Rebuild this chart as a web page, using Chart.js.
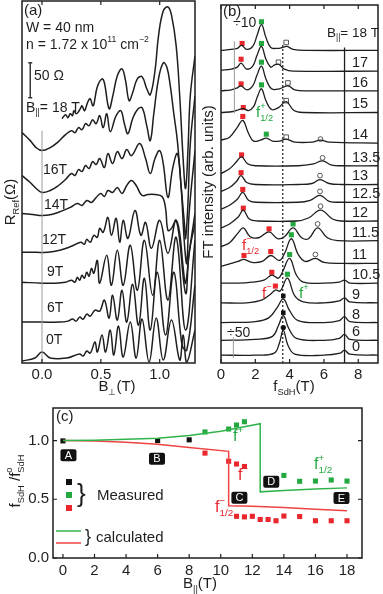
<!DOCTYPE html>
<html>
<head>
<meta charset="utf-8">
<script src="https://cdn.jsdelivr.net/npm/chart.js@4"></script>
<style>
  body { margin: 0; background: #fff; width: 383px; height: 594px; position: relative; overflow: hidden; }
  canvas { position: absolute; }
</style>
</head>
<body>
<canvas id="cA" style="left:0px;top:0px" width="200" height="400"></canvas>
<canvas id="cB" style="left:200px;top:0px" width="183" height="400"></canvas>
<canvas id="cC" style="left:0px;top:395px" width="383" height="199"></canvas>
<script>
// ---------- (a) magnetoresistance traces, offset for clarity: [B_perp (T), R (offset units)]
const rA18 = [[0.17,245],[0.20,249],[0.22,246],[0.24,250],[0.26,248],[0.27,253],[0.29,250],[0.31,252],[0.33,256],[0.34,258],[0.36,253],[0.37,255],[0.39,262],[0.41,265],[0.43,258],[0.44,259],[0.47,277],[0.51,285],[0.53,281],[0.57,255],[0.60,267],[0.64,288],[0.68,295],[0.71,283],[0.74,263],[0.77,271],[0.81,285],[0.85,287],[0.89,275],[0.92,269],[0.96,293],[0.99,328],[1.03,353],[1.07,357],[1.10,349],[1.14,318],[1.17,268],[1.20,203],[1.22,175],[1.24,213],[1.26,268],[1.30,308]];
const rA17 = [[-0.17,231],[-0.10,223],[-0.05,216],[0,213],[0.07,216],[0.14,222],[0.20,229],[0.25,233],[0.28,231],[0.31,236],[0.34,234],[0.37,240],[0.40,238],[0.43,244],[0.46,240],[0.49,248],[0.52,236],[0.55,250],[0.58,232],[0.63,248],[0.67,253],[0.70,240],[0.73,230],[0.77,245],[0.81,254],[0.85,256],[0.89,238],[0.92,223],[0.95,250],[0.99,285],[1.03,301],[1.06,297],[1.09,278],[1.12,250],[1.15,223],[1.18,180],[1.21,140],[1.22,125],[1.24,160],[1.26,220],[1.30,268]];
const rA16 = [[-0.17,188],[-0.10,181],[-0.05,175],[0,171],[0.07,173],[0.14,178],[0.20,184],[0.25,190],[0.28,188],[0.31,194],[0.34,192],[0.37,198],[0.40,195],[0.43,202],[0.46,199],[0.49,205],[0.53,196],[0.56,210],[0.60,200],[0.64,212],[0.68,205],[0.72,214],[0.76,208],[0.83,220],[0.88,205],[0.92,190],[0.96,205],[1.00,213],[1.03,200],[1.07,166],[1.11,195],[1.15,210],[1.18,180],[1.21,120],[1.23,100],[1.25,150],[1.30,213]];
const rA14 = [[-0.17,150],[-0.08,149],[0,148],[0.08,149],[0.16,152],[0.24,156],[0.30,160],[0.34,158],[0.38,163],[0.42,161],[0.46,166],[0.50,170],[0.53,167],[0.56,173],[0.60,171],[0.64,176],[0.68,170],[0.72,178],[0.76,183],[0.80,178],[0.85,168],[0.90,169],[0.96,169],[1.02,167],[1.05,155],[1.07,133],[1.10,135],[1.14,143],[1.17,130],[1.20,95],[1.22,80],[1.25,110],[1.30,150]];
const rA12 = [[-0.17,111],[-0.05,111],[0.05,111],[0.15,113],[0.25,117],[0.33,121],[0.36,119],[0.38,124],[0.41,121],[0.44,128],[0.47,126],[0.49,135],[0.52,131],[0.56,146],[0.59,128],[0.63,145],[0.66,121],[0.69,143],[0.73,125],[0.79,153],[0.84,128],[0.88,141],[0.93,115],[1.00,143],[1.07,110],[1.14,143],[1.22,70],[1.25,110],[1.30,140]];
const rA9 = [[-0.17,81],[0,80],[0.10,80],[0.20,81],[0.25,83],[0.28,81],[0.30,86],[0.32,83],[0.34,88],[0.36,85],[0.38,91],[0.40,87],[0.42,95],[0.44,90],[0.47,103],[0.49,80],[0.55,108],[0.59,78],[0.64,113],[0.69,78],[0.75,118],[0.81,73],[0.87,123],[0.94,68],[1.00,123],[1.07,63],[1.14,126],[1.22,33],[1.30,123]];
const rA6 = [[-0.17,41],[0,41],[0.15,41],[0.22,42],[0.26,44],[0.29,42],[0.32,46],[0.35,44],[0.38,49],[0.41,47],[0.45,53],[0.49,52],[0.53,63],[0.57,45],[0.60,68],[0.64,43],[0.68,73],[0.72,41],[0.77,79],[0.82,38],[0.87,85],[0.92,33],[0.98,91],[1.05,28],[1.12,91],[1.19,18],[1.23,13],[1.30,78]];
const rA0 = [[-0.17,2],[-0.06,5],[0,11],[0.07,5],[0.21,5],[0.32,9],[0.35,7],[0.38,12],[0.41,10],[0.45,21],[0.47,11],[0.51,28],[0.54,11],[0.58,33],[0.61,8],[0.65,37],[0.69,6],[0.75,41],[0.80,5],[0.85,44],[0.91,1],[0.97,45],[1.03,3],[1.10,43],[1.17,3],[1.20,28],[1.23,1],[1.30,33]];

// ---------- (b) FT spectra: field labels, baseline offsets, [f_SdH (T), intensity above baseline]
const ftFields  = ['18','17','16','15','14','13.5','13','12.5','12','11.5','11','10.5','9','8','6','0'];
const ftOffsets = [317,296,276,254,223,200,181,163,144,124,101,81,61,41,23,8];
const ftCurves = [
  [[0,0],[0.6,1],[0.95,2],[1.2,5],[1.5,1],[1.85,4],[2.1,15],[2.36,26],[2.62,13],[2.9,3],[3.3,2],[3.6,3],[3.85,4],[4.2,1],[5,0],[9.2,0]],
  [[0,1],[0.6,2],[0.95,4],[1.17,8],[1.5,2],[1.85,5],[2.1,16],[2.36,25],[2.62,12],[2.9,4],[3.1,6],[3.35,7],[3.7,2],[4.2,0],[9.2,0]],
  [[0,0],[0.6,1],[0.95,3],[1.17,5],[1.5,1],[1.85,5],[2.1,16],[2.36,25],[2.62,12],[2.95,2],[3.4,2],[3.9,5],[4.3,1],[5,0],[9.2,0]],
  [[0,0],[0.7,1],[1.05,3],[1.3,4],[1.6,2],[1.9,6],[2.12,16],[2.36,24],[2.62,12],[2.95,3],[3.35,5],[3.8,11],[4.25,2],[4.8,0],[9.2,0]],
  [[0,3],[0.5,6],[0.95,16],[1.27,23],[1.6,10],[1.9,2],[2.3,3],[2.64,5],[3.0,2],[3.4,2],[3.8,4],[4.3,1],[5.3,1],[5.8,3],[6.3,1],[9.2,0]],
  [[0,-8],[0.5,-3],[0.9,4],[1.2,9],[1.55,2],[2.0,0],[4.5,0],[5.4,2],[5.92,5],[6.4,1],[7,0],[9.2,0]],
  [[0,-7],[0.5,-3],[0.9,3],[1.17,9],[1.5,2],[2.0,0],[4.5,0],[5.3,1],[5.77,5],[6.3,1],[7,0],[9.2,0]],
  [[0,-7],[0.5,-3],[0.95,3],[1.27,10],[1.6,2],[2.0,0],[4.5,0],[5.2,2],[5.77,7],[6.3,1],[7,0],[9.2,0]],
  [[0,-7],[0.5,-3],[1.0,4],[1.3,11],[1.65,2],[2.1,0],[4.4,0],[5.1,3],[5.8,11],[6.5,2],[7,0],[9.2,0]],
  [[0,-6],[0.5,-2],[1.0,8],[1.3,13],[1.7,4],[2.2,3],[2.8,9],[3.3,2],[3.7,4],[4.2,13],[4.7,3],[5.1,2],[5.63,13],[6.2,3],[6.8,0],[9.2,0]],
  [[0,-3],[0.6,0],[1.0,2],[1.34,4],[1.8,1],[2.4,2],[2.9,8],[3.4,3],[3.7,10],[4.1,25],[4.5,9],[4.9,2],[5.5,5],[6.0,1],[7,0],[9.2,0]],
  [[0,0],[1.0,0],[1.8,1],[2.5,3],[2.96,8],[3.35,5],[3.6,12],[4.0,25],[4.4,8],[4.8,1],[6,0],[6.9,1],[7.2,3],[7.5,0],[9.2,0]],
  [[0,0],[1.5,0],[2.4,3],[2.9,9],[3.17,13],[3.45,12],[3.87,25],[4.3,7],[4.8,1],[6,0],[6.9,2],[7.2,5],[7.5,1],[9.2,0]],
  [[0,0],[2,1],[2.8,5],[3.3,16],[3.63,24],[4.0,12],[4.5,2],[6,0],[6.9,2],[7.2,6],[7.5,1],[9.2,0]],
  [[0,0],[2,1],[3.0,4],[3.35,15],[3.63,25],[3.95,12],[4.4,2],[6,0],[6.9,2],[7.2,6],[7.5,1],[9.2,0]],
  [[0,0],[2,0],[3.1,2],[3.4,12],[3.63,25],[3.9,10],[4.3,1],[6,0],[6.95,2],[7.2,5],[7.5,1],[9.2,0]]
];
// peak markers in (b): [f_SdH, level]
const ftRed   = [[1.23,324],[1.17,308],[1.17,283],[1.3,259],[1.27,250],[1.2,211],[1.17,193],[1.27,176],[1.3,157],[2.8,136],[1.34,109],[2.9,113],[2.96,92],[3.17,78]];
const ftGreen = [[2.36,346],[2.36,324],[2.36,305],[2.36,282],[2.64,232],[4.2,141],[4.1,130],[4.0,110],[3.87,90]];
const ftOpenSq = [[3.8,325],[3.35,305],[3.9,284],[3.8,266],[3.8,229]];
const ftOpenCirc = [[5.8,227],[5.92,208],[5.77,190],[5.77,174],[5.8,159],[5.63,141],[5.5,110]];
const ftBlackSq = [[3.63,68],[3.63,51]];
const ftBlackCirc = [[3.63,36]];

// ---------- (c) normalised frequencies vs in-plane field
const measBlackB = [0, 6, 8];
const measBlackF = [0.997, 1.0, 1.006];
const measGreenB = [9, 10.5, 11, 11.5, 14, 15, 16, 17, 18];
const measGreenF = [1.073, 1.098, 1.132, 1.16, 0.703, 0.653, 0.655, 0.664, 0.655];
const measRedB = [9, 10.5, 11, 11.5, 11, 11.5, 12, 12.5, 13, 13.5, 14, 15, 16, 17, 18];
const measRedF = [0.893, 0.824, 0.80, 0.779, 0.355, 0.35, 0.355, 0.328, 0.328, 0.317, 0.357, 0.353, 0.317, 0.317, 0.317];
const calcGreenB = [0, 2, 4, 6, 8, 10, 12.5, 12.5, 14, 16, 18];
const calcGreenF = [1.0, 1.003, 1.01, 1.019, 1.042, 1.08, 1.143, 0.563, 0.575, 0.588, 0.597];
const calcRedB = [0, 2, 4, 6, 8, 10.5, 10.5, 12, 14, 16, 18];
const calcRedF = [1.0, 0.995, 0.985, 0.969, 0.941, 0.908, 0.445, 0.44, 0.43, 0.415, 0.403];
const regionNames = ['A', 'B', 'C', 'D', 'E'];
const regionB = [0.35, 5.96, 11.18, 13.2, 17.65];
const regionF = [0.874, 0.845, 0.513, 0.65, 0.51];

const FONT = '"Liberation Sans", Arial, Helvetica, sans-serif';
const INK = '#1e1e1e';
const RED = '#e8262b';
const GREEN = '#22a83f';

// draws text made of normal / sub / sup runs; a third element true = do not advance
function rich(ctx, x, y, parts, size, color, align, rot) {
  ctx.save();
  ctx.translate(x, y);
  if (rot) ctx.rotate(rot);
  ctx.fillStyle = color || INK;
  ctx.textBaseline = 'middle';
  ctx.textAlign = 'left';
  let w = 0;
  const segs = parts.map(p => {
    const t = typeof p === 'string' ? p : p[0];
    const k = typeof p === 'string' ? 'n' : p[1];
    const s = k === 'n' ? size : size * 0.62;
    ctx.font = s + 'px ' + FONT;
    const m = ctx.measureText(t).width;
    const seg = { t, k, s, x: w };
    if (!(typeof p !== 'string' && p[2])) w += m;
    return seg;
  });
  const x0 = align === 'center' ? -w / 2 : align === 'right' ? -w : 0;
  segs.forEach(g => {
    ctx.font = g.s + 'px ' + FONT;
    const dy = g.k === 'sub' ? size * 0.33 : g.k === 'sup' ? -size * 0.42 : 0;
    ctx.fillText(g.t, x0 + g.x, dy);
  });
  ctx.restore();
}

function frame(chart, xt, yt, top) {
  const { ctx, chartArea: a, scales } = chart;
  ctx.save();
  ctx.strokeStyle = INK;
  ctx.lineWidth = 1.5;
  ctx.strokeRect(a.left, a.top, a.right - a.left, a.bottom - a.top);
  ctx.lineWidth = 1.2;
  ctx.beginPath();
  xt.forEach(v => {
    const x = scales.x.getPixelForValue(v);
    ctx.moveTo(x, a.bottom); ctx.lineTo(x, a.bottom - 4);
    if (top) { ctx.moveTo(x, a.top); ctx.lineTo(x, a.top + 4); }
  });
  yt.forEach(v => {
    const y = scales.y.getPixelForValue(v);
    ctx.moveTo(a.left, y); ctx.lineTo(a.left + 4, y);
    ctx.moveTo(a.right, y); ctx.lineTo(a.right - 4, y);
  });
  ctx.stroke();
  ctx.restore();
}

function pts(arr) { return arr.map(p => ({ x: p[0], y: p[1] })); }
function zipXY(xs, ys) { return xs.map((x, i) => ({ x, y: ys[i] })); }
function curve(data, color, width, extra) {
  return Object.assign({ type: 'line', data, borderColor: color, borderWidth: width, pointRadius: 0, tension: 0.4, fill: false }, extra || {});
}
function marks(data, style, radius, fillColor, strokeColor, bw) {
  return { type: 'scatter', data, pointStyle: style, pointRadius: radius, backgroundColor: fillColor, borderColor: strokeColor, pointBorderWidth: bw || 0, borderWidth: bw || 0 };
}
const baseOpts = { responsive: false, animation: false, events: [], plugins: { legend: { display: false }, tooltip: { enabled: false } } };

// ================= panel (a)
const traceSets = [rA18, rA17, rA16, rA14, rA12, rA9, rA6, rA0];
new Chart(document.getElementById('cA'), {
  type: 'line',
  data: {
    datasets: [
      curve(pts([[0, 0], [0, 233]]), '#9a9a9a', 1, { tension: 0 }),
      curve(pts([[-0.1, 266], [-0.1, 301]]), INK, 1.3, { tension: 0 }),
      curve(pts([[-0.117, 266], [-0.083, 266]]), INK, 1.3, { tension: 0 }),
      curve(pts([[-0.117, 301], [-0.083, 301]]), INK, 1.3, { tension: 0 }),
      ...traceSets.map(t => curve(pts(t), INK, 1.5))
    ]
  },
  options: Object.assign({}, baseOpts, {
    layout: { padding: { left: 22, right: 5, top: 1, bottom: 0 } },
    scales: {
      x: {
        type: 'linear', min: -0.17, max: 1.3,
        grid: { display: false, drawTicks: false }, border: { display: false },
        ticks: { font: { size: 15, family: FONT }, color: INK, padding: 3, autoSkip: false, maxRotation: 0, callback: v => v.toFixed(1) },
        afterBuildTicks: s => { s.ticks = [0, 0.5, 1.0].map(v => ({ value: v })); },
        afterFit: s => { s.height = 37; }
      },
      y: { display: false, min: 0, max: 363 }
    }
  }),
  plugins: [{
    id: 'deckA',
    afterDraw(chart) {
      const ctx = chart.ctx;
      frame(chart, [0, 0.5, 1.0], [], true);
      rich(ctx, 24, 11, ['(a)'], 15);
      rich(ctx, 26, 28, ['W = 40 nm'], 14);
      rich(ctx, 26, 45, ['n = 1.72 x 10', ['11', 'sup'], ' cm', ['\u22122', 'sup']], 14);
      rich(ctx, 34, 76, ['50 \u03A9'], 14);
      rich(ctx, 26, 108, ['B', ['||', 'sub'], '= 18 T'], 14);
      [['16T', 43, 170], ['14T', 44, 205], ['12T', 42, 240], ['9T', 47, 272], ['6T', 47, 308], ['0T', 46, 340]]
        .forEach(l => rich(ctx, l[1], l[2], [l[0]], 14));
      rich(ctx, 117, 387, ['B', ['\u22A5', 'sub'], '(T)'], 15, INK, 'center');
      rich(ctx, 11, 202, ['R', ['Ref', 'sub'], '(\u03A9)'], 15, INK, 'center', -Math.PI / 2);
    }
  }]
});

// ================= panel (b)
const ftSets = ftCurves.map((c, i) => curve(c.map(p => ({ x: p[0], y: p[1] + ftOffsets[i] })), INK, 1.3));
new Chart(document.getElementById('cB'), {
  type: 'line',
  data: {
    datasets: [
      curve(pts([[0.78, 253], [0.78, 326]]), '#9a9a9a', 1, { tension: 0 }),
      curve(pts([[0.72, 5], [0.72, 26]]), '#9a9a9a', 1, { tension: 0 }),
      curve(pts([[3.6, 0], [3.6, 323]]), INK, 1.2, { tension: 0, borderDash: [2, 2] }),
      curve(pts([[7.2, 0], [7.2, 320]]), INK, 1.3, { tension: 0 }),
      ...ftSets,
      marks(pts(ftRed), 'rect', 3.6, RED, RED),
      marks(pts(ftGreen), 'rect', 3.6, GREEN, GREEN),
      marks(pts(ftOpenSq), 'rect', 3.2, '#fff', '#555', 1),
      marks(pts(ftOpenCirc), 'circle', 2.4, '#fff', '#555', 1),
      marks(pts(ftBlackSq), 'rect', 3.2, '#111', '#111'),
      marks(pts(ftBlackCirc), 'circle', 2.6, '#111', '#111')
    ]
  },
  options: Object.assign({}, baseOpts, {
    layout: { padding: { left: 21, right: 1, top: 1, bottom: 0 } },
    scales: {
      x: {
        type: 'linear', min: 0, max: 9.15,
        grid: { display: false, drawTicks: false }, border: { display: false },
        ticks: { font: { size: 15, family: FONT }, color: INK, padding: 3, autoSkip: false, maxRotation: 0 },
        afterBuildTicks: s => { s.ticks = [0, 2, 4, 6, 8].map(v => ({ value: v })); },
        afterFit: s => { s.height = 37; }
      },
      y: { display: false, min: 0, max: 363 }
    }
  }),
  plugins: [{
    id: 'deckB',
    afterDraw(chart) {
      const ctx = chart.ctx, y = chart.scales.y;
      frame(chart, [0, 2, 4, 6, 8], [], true);
      rich(ctx, 23, 12, ['(b)'], 15);
      rich(ctx, 33, 23, ['\u00F710'], 14);
      rich(ctx, 27, 333, ['\u00F750'], 14);
      rich(ctx, 127, 33, ['B', ['||', 'sub'], '= 18 T'], 13.5);
      ftFields.forEach((f, i) => { if (i > 0) rich(ctx, 152, y.getPixelForValue(ftOffsets[i]) - 8, [f], 14.5); });
      rich(ctx, 56, 113, ['f', ['+', 'sup', true], ['1/2', 'sub']], 15, GREEN);
      rich(ctx, 42, 246, ['f', ['\u2212', 'sup', true], ['1/2', 'sub']], 15, RED);
      rich(ctx, 62, 294, ['f', ['\u2212', 'sup']], 15, RED);
      rich(ctx, 99, 294, ['f', ['+', 'sup']], 15, GREEN);
      rich(ctx, 94, 387, ['f', ['SdH', 'sub'], '(T)'], 15, INK, 'center');
      rich(ctx, 9, 182, ['FT intensity (arb. units)'], 15, INK, 'center', -Math.PI / 2);
    }
  }]
});

// ================= panel (c)
new Chart(document.getElementById('cC'), {
  type: 'line',
  data: {
    datasets: [
      curve(zipXY(calcGreenB, calcGreenF), '#2fb44c', 1.5, { tension: 0 }),
      curve(zipXY(calcRedB, calcRedF), '#ee4444', 1.5, { tension: 0 }),
      marks(zipXY(measBlackB, measBlackF), 'rect', 3.6, '#111', '#111'),
      marks(zipXY(measGreenB, measGreenF), 'rect', 3.6, GREEN, GREEN),
      marks(zipXY(measRedB, measRedF), 'rect', 3.6, RED, RED)
    ]
  },
  options: Object.assign({}, baseOpts, {
    layout: { padding: { left: 0, right: 21, top: 11, bottom: 0 } },
    scales: {
      x: {
        type: 'linear', min: -0.63, max: 18.95,
        grid: { display: false, drawTicks: false }, border: { display: false },
        ticks: { font: { size: 15, family: FONT }, color: INK, padding: 4, autoSkip: false, maxRotation: 0 },
        afterBuildTicks: s => { s.ticks = [0, 2, 4, 6, 8, 10, 12, 14, 16, 18].map(v => ({ value: v })); },
        afterFit: s => { s.height = 36; }
      },
      y: {
        type: 'linear', min: 0, max: 1.277,
        grid: { display: false, drawTicks: false }, border: { display: false },
        ticks: { font: { size: 15, family: FONT }, color: INK, padding: 4, callback: v => v.toFixed(1) },
        afterBuildTicks: s => { s.ticks = [0, 0.5, 1.0].map(v => ({ value: v })); },
        afterFit: s => { s.width = 53; }
      }
    }
  }),
  plugins: [{
    id: 'deckC',
    afterDraw(chart) {
      const ctx = chart.ctx, sx = chart.scales.x, sy = chart.scales.y;
      frame(chart, [0, 2, 4, 6, 8, 10, 12, 14, 16, 18], [0, 0.5, 1.0], false);
      // region tags
      regionNames.forEach((n, i) => {
        const x = sx.getPixelForValue(regionB[i]), y = sy.getPixelForValue(regionF[i]);
        ctx.save();
        ctx.fillStyle = '#111';
        ctx.beginPath();
        ctx.roundRect(x - 8, y - 6, 16, 12, 2);
        ctx.fill();
        ctx.restore();
        rich(ctx, x, y + 0.5, [n], 11, '#fff', 'center');
      });
      rich(ctx, 56, 22, ['(c)'], 15);
      rich(ctx, 233, 42, ['f', ['+', 'sup']], 16, GREEN);
      rich(ctx, 238, 81, ['f', ['\u2212', 'sup']], 16, RED);
      rich(ctx, 314, 70, ['f', ['+', 'sup', true], ['1/2', 'sub']], 16, GREEN);
      rich(ctx, 215, 113, ['f', ['\u2212', 'sup', true], ['1/2', 'sub']], 16, RED);
      // legend
      ctx.save();
      [['#111', 87], [GREEN, 100], [RED, 113]].forEach(m => { ctx.fillStyle = m[0]; ctx.fillRect(66, m[1] - 3, 6, 6); });
      ctx.lineWidth = 1.5;
      ctx.strokeStyle = '#2fb44c'; ctx.beginPath(); ctx.moveTo(56, 136); ctx.lineTo(81, 136); ctx.stroke();
      ctx.strokeStyle = '#ee4444'; ctx.beginPath(); ctx.moveTo(56, 148); ctx.lineTo(81, 148); ctx.stroke();
      ctx.restore();
      rich(ctx, 77, 100, ['}'], 26, INK);
      rich(ctx, 97, 101, ['Measured'], 15);
      rich(ctx, 85, 142, ['}'], 18, INK);
      rich(ctx, 96, 143, ['calculated'], 15);
      rich(ctx, 200, 189, ['B', ['||', 'sub'], '(T)'], 15, INK, 'center');
      rich(ctx, 16, 86, ['f', ['SdH', 'sub'], ' /f', ['o', 'sup', true], ['SdH', 'sub']], 15, INK, 'center', -Math.PI / 2);
    }
  }]
});
</script>
</body>
</html>
